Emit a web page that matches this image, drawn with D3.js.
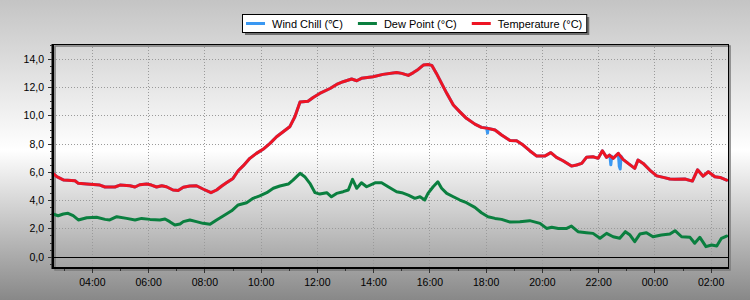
<!DOCTYPE html>
<html>
<head>
<meta charset="utf-8">
<script src="https://cdn.jsdelivr.net/npm/d3@7"></script>
<style>
  html, body { margin: 0; padding: 0; }
  body { width: 750px; height: 300px; overflow: hidden; }
  svg { display: block; font-family: "Liberation Sans", Arial, sans-serif; }
</style>
</head>
<body>
<svg id="chart" width="750" height="300"></svg>
<script>
// clock times, the record runs past midnight
const tempTimes = ["02:37","02:45","03:00","03:24","03:31","03:49","04:17","04:28","04:49","05:00",
  "05:21","05:32","05:42","05:57","06:07","06:18","06:29","06:39","06:53","07:04",
  "07:15","07:29","07:43","07:57","08:14","08:26","08:37","08:47","09:01","09:12",
  "09:23","09:37","09:51","10:05","10:20","10:34","10:48","11:02","11:13","11:24",
  "11:41","11:52","12:06","12:28","12:42","12:56","13:14","13:25","13:35","14:00",
  "14:21","14:50","15:01","15:15","15:25","15:36","15:47","15:57","16:05","16:15",
  "16:26","16:37","16:51","17:05","17:19","17:37","17:51","18:05","18:20","18:34",
  "18:52","19:06","19:20","19:34","19:49","20:06","20:19","20:31","20:45","21:03",
  "21:14","21:25","21:35","21:49","22:00","22:09","22:18","22:24","22:32","22:43",
  "22:53","23:04","23:18","23:25","23:36","23:50","00:05","00:19","00:33","00:44",
  "01:05","01:21","01:32","01:44","01:55","02:09","02:20","02:34"]
const tempValues = [5.9,5.66,5.42,5.37,5.19,5.14,5.07,4.93,4.93,5.07,
  5.02,4.93,5.09,5.14,5.07,4.93,5.02,4.95,4.72,4.69,
  4.91,5.0,5.02,4.79,4.53,4.72,5.0,5.23,5.54,6.08,
  6.44,6.96,7.31,7.6,8.02,8.49,8.84,9.19,9.9,10.94,
  11.0,11.27,11.55,11.9,12.19,12.38,12.57,12.45,12.62,12.73,
  12.9,13.04,12.97,12.83,13.01,13.25,13.56,13.6,13.54,12.97,
  12.26,11.56,10.73,10.25,9.79,9.38,9.15,9.08,8.96,8.61,
  8.22,8.2,7.9,7.5,7.12,7.12,7.36,7.03,6.79,6.41,
  6.49,6.6,7.03,7.07,6.96,7.5,7.03,7.19,6.96,7.31,
  6.89,6.6,6.25,6.84,6.6,6.13,5.72,5.61,5.5,5.48,
  5.5,5.35,6.15,5.7,6.01,5.66,5.61,5.42]

const dewTimes = ["02:37","02:48","02:59","03:09","03:20","03:31","03:49","04:10","04:28","04:38",
  "04:53","05:14","05:32","05:46","06:04","06:25","06:36","06:46","06:57","07:08",
  "07:15","07:29","07:43","07:57","08:12","08:26","08:40","08:58","09:12","09:30",
  "09:44","09:58","10:13","10:27","10:41","10:59","11:09","11:24","11:34","11:45",
  "11:56","12:06","12:21","12:31","12:42","12:56","13:07","13:16","13:25","13:35",
  "13:46","14:04","14:18","14:32","14:50","15:01","15:15","15:29","15:40","15:50",
  "15:57","16:08","16:18","16:26","16:37","16:51","17:05","17:19","17:37","17:51",
  "18:05","18:20","18:34","18:52","19:13","19:34","19:56","20:10","20:21","20:35",
  "20:53","21:03","21:17","21:35","21:49","22:04","22:18","22:32","22:46","22:58",
  "23:08","23:18","23:29","23:43","23:57","00:15","00:33","00:44","00:58","01:16",
  "01:26","01:37","01:50","02:02","02:13","02:23","02:34"]
const dewValues = [3.02,2.9,3.02,3.07,2.9,2.6,2.76,2.79,2.64,2.6,
  2.83,2.71,2.6,2.71,2.64,2.6,2.67,2.48,2.24,2.31,
  2.48,2.6,2.48,2.36,2.29,2.6,2.88,3.25,3.66,3.82,
  4.13,4.31,4.53,4.84,5.0,5.14,5.42,5.9,5.66,5.19,
  4.53,4.43,4.53,4.24,4.48,4.6,4.72,5.47,4.84,5.23,
  4.95,5.23,5.23,4.95,4.6,4.53,4.36,4.13,4.24,4.01,
  4.48,4.95,5.3,4.84,4.48,4.24,4.01,3.82,3.49,3.11,
  2.83,2.71,2.64,2.45,2.48,2.55,2.36,2.0,2.08,2.0,
  2.0,2.17,1.77,1.7,1.65,1.3,1.65,1.41,1.3,1.77,
  1.53,1.06,1.6,1.7,1.41,1.53,1.6,1.84,1.41,1.37,
  0.95,1.37,0.71,0.83,0.76,1.3,1.46]

// wind chill sits on the temperature line apart from these short dips
const chillDipTimes = ["18:02","18:04","18:06","22:25","22:27","22:29","22:43","22:45","22:47","22:49"]
const chillDipValues = [9.1,8.75,9.07,7.15,6.5,7.1,7.3,6.4,6.2,7.1]

const seriesNames = ["Wind Chill (\u2103)", "Dew Point (\u00b0C)", "Temperature (\u00b0C)"]
const seriesColors = ["#3a98f2", "#0a7f3f", "#ee1423"]
const yTicks = [0, 2, 4, 6, 8, 10, 12, 14]

const width = 750, height = 300
const margin = {top: 44, right: 22, bottom: 32, left: 53}
const innerW = width - margin.left - margin.right
const innerH = height - margin.top - margin.bottom

// turn HH:MM strings into dates, rolling to the next day once the clock wraps
function toDates(times) {
    let day = 0, prev = -1
    return times.map(t => {
        const [h, m] = t.split(":").map(Number)
        if (h * 60 + m < prev) day++
        prev = h * 60 + m
        return new Date(2000, 0, 1 + day, h, m)
    })
}
const zip = (times, values) => toDates(times).map((d, i) => ({date: d, value: values[i]}))

const temperature = zip(tempTimes, tempValues)
const dewPoint = zip(dewTimes, dewValues)
const windChill = temperature.concat(zip(chillDipTimes, chillDipValues))
    .sort((a, b) => a.date - b.date)
const series = [windChill, dewPoint, temperature]

const start = new Date(2000, 0, 1, 2, 37)
const end = d3.timeHour.offset(start, 24)

const x = d3.scaleTime().domain([start, end]).range([0, innerW])
const y = d3.scaleLinear().domain([-0.8, 15.05]).range([innerH, 0])

const svg = d3.select("#chart")

const grad = svg.append("defs").append("linearGradient")
    .attr("id", "bg").attr("x1", 0).attr("y1", 0).attr("x2", 0).attr("y2", 1)
grad.append("stop").attr("offset", "0%").attr("stop-color", "#c4c4c4")
grad.append("stop").attr("offset", "50%").attr("stop-color", "#ffffff")
grad.append("stop").attr("offset", "100%").attr("stop-color", "#888888")

svg.append("rect").attr("width", width).attr("height", height).attr("fill", "url(#bg)")

const g = svg.append("g").attr("transform", `translate(${margin.left},${margin.top})`)

// frame shadow
g.append("rect")
    .attr("x", 2).attr("y", 2).attr("width", innerW).attr("height", innerH)
    .attr("fill", "none").attr("stroke", "#7a7a7a").attr("stroke-width", 1.5)

// dotted grid
const majorHours = x.ticks(d3.timeHour.every(2))
g.append("g")
    .attr("stroke", "#9a9a9a").attr("stroke-dasharray", "1,2").attr("shape-rendering", "crispEdges")
    .selectAll("line.v").data(majorHours).join("line")
    .attr("x1", d => Math.round(x(d)) + 0.5).attr("x2", d => Math.round(x(d)) + 0.5)
    .attr("y1", 0).attr("y2", innerH)
g.append("g")
    .attr("stroke", "#9a9a9a").attr("stroke-dasharray", "1,2").attr("shape-rendering", "crispEdges")
    .selectAll("line").data(yTicks.filter(d => d !== 0)).join("line")
    .attr("x1", 0).attr("x2", innerW)
    .attr("y1", d => Math.round(y(d)) + 0.5).attr("y2", d => Math.round(y(d)) + 0.5)

// zero line
g.append("line")
    .attr("x1", 0).attr("x2", innerW)
    .attr("y1", Math.round(y(0)) + 0.5).attr("y2", Math.round(y(0)) + 0.5)
    .attr("stroke", "#000").attr("stroke-width", 1)

const line = d3.line().x(d => x(d.date)).y(d => y(d.value))

g.append("g")
    .attr("fill", "none").attr("stroke-width", 3)
    .attr("stroke-linejoin", "round").attr("stroke-linecap", "round")
    .selectAll("path").data(series).join("path")
    .attr("stroke", (d, i) => seriesColors[i])
    .attr("d", line)

// frame
g.append("rect")
    .attr("x", 0.5).attr("y", 0.5).attr("width", innerW).attr("height", innerH)
    .attr("fill", "none").attr("stroke", "#000")
g.append("line").attr("x1", -0.5).attr("x2", -0.5).attr("y1", 0).attr("y2", innerH + 1)
    .attr("stroke", "#000").attr("stroke-width", 2)
g.append("line").attr("x1", -1).attr("x2", innerW + 1).attr("y1", innerH).attr("y2", innerH)
    .attr("stroke", "#000").attr("stroke-width", 2)

// y axis, major ticks with labels and minor ticks every 0.5
const yAxis = g.append("g").attr("transform", "translate(-1,0)")
    .call(d3.axisLeft(y).tickValues(yTicks).tickSize(4).tickPadding(4)
        .tickFormat(d => d3.format(".1f")(d).replace(".", ",")))
yAxis.append("g")
    .call(d3.axisLeft(y).tickValues(d3.range(-0.5, 15.01, 0.5)).tickSize(2).tickFormat(""))

const xAxis = g.append("g").attr("transform", `translate(0,${innerH + 1})`)
    .call(d3.axisBottom(x).ticks(d3.timeHour.every(2)).tickSize(4).tickPadding(6)
        .tickFormat(d3.timeFormat("%H:%M")))
xAxis.append("g")
    .call(d3.axisBottom(x).ticks(d3.timeHour.every(1)).tickSize(2).tickFormat(""))

svg.selectAll(".domain").remove()
svg.selectAll(".tick line").attr("stroke", "#333").attr("shape-rendering", "crispEdges")
svg.selectAll(".tick text").attr("fill", "#000").attr("font-size", 10.5)
    .attr("font-family", "Liberation Sans, Arial, sans-serif")

// legend
const legend = svg.append("g").attr("transform", "translate(242,14)")
const shadow = legend.append("rect").attr("x", 3).attr("y", 3).attr("height", 18).attr("fill", "#6e6e6e")
const box = legend.append("rect").attr("x", 0.5).attr("y", 0.5).attr("height", 18)
    .attr("fill", "#fff").attr("stroke", "#000")

let cx = 4
seriesNames.forEach((name, i) => {
    legend.append("line")
        .attr("x1", cx).attr("x2", cx + 19).attr("y1", 9.5).attr("y2", 9.5)
        .attr("stroke", seriesColors[i]).attr("stroke-width", 3)
    const t = legend.append("text")
        .attr("x", cx + 26).attr("y", 13.5)
        .attr("font-size", 11).attr("fill", "#000")
        .text(name)
    cx += 26 + t.node().getComputedTextLength() + 15
})
const boxW = cx - 15 + 4
box.attr("width", boxW)
shadow.attr("width", boxW)
</script>
</body>
</html>
